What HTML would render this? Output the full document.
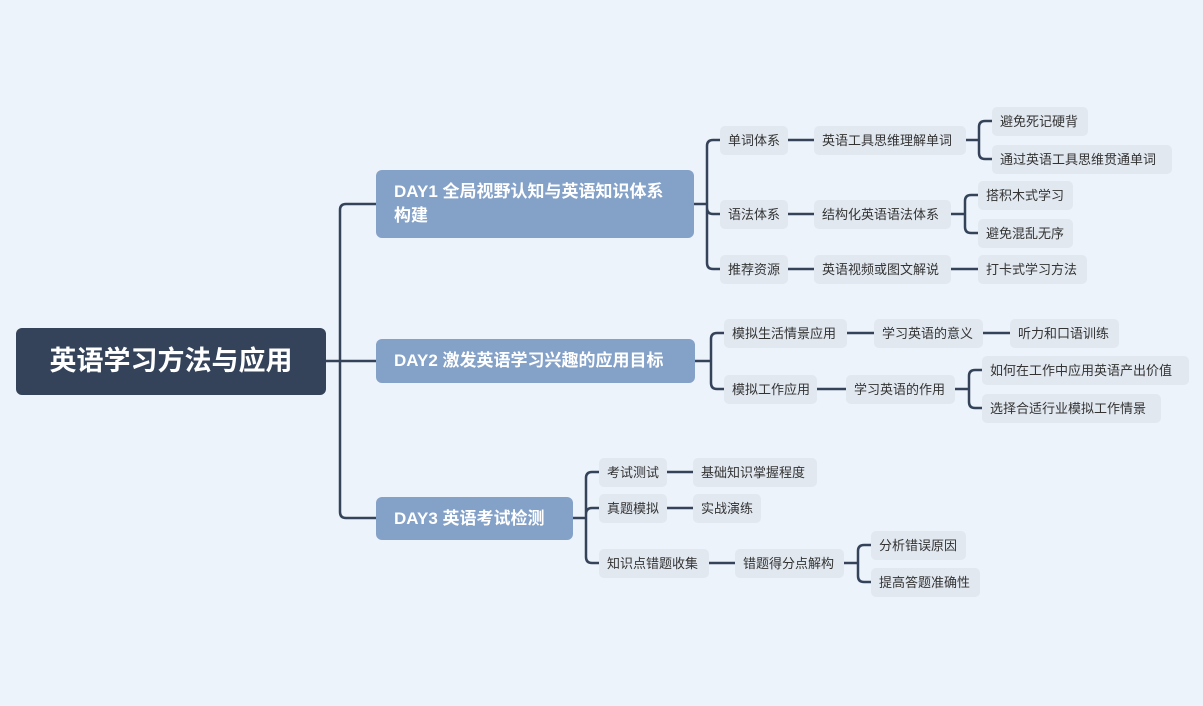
<!DOCTYPE html>
<html><head><meta charset="utf-8"><style>
body{margin:0;width:1203px;height:706px;background:#ecf3fa;position:relative;overflow:hidden;font-family:"Liberation Sans","Noto Sans CJK SC",sans-serif}
.n{position:absolute;height:29px;line-height:29px;padding:0 8px;background:#e1e8f0;color:#333;font-size:13px;border-radius:5px;white-space:nowrap;box-sizing:border-box}
.d{position:absolute;background:#84a1c8;color:#fff;font-weight:bold;font-size:17px;border-radius:6px;box-sizing:border-box;padding:0 18px;white-space:nowrap}
svg{position:absolute;left:0;top:0}
</style></head><body>
<svg width="1203" height="706"><g fill="none" stroke="#34435a" stroke-width="2.5">
<path d="M326 361H340M340 361V210Q340 204 346 204H376M340 361H376M340 361V512Q340 518 346 518H376"/>
<path d="M694 204H707M707 204V146Q707 140 713 140H720M707 204V208Q707 214 713 214H720M707 204V263Q707 269 713 269H720"/>
<path d="M788 140H814M788 214H814M788 269H814"/>
<path d="M966 140H979M979 140V127Q979 121 985 121H992M979 140V153Q979 159 985 159H992"/>
<path d="M951 214H965M965 214V201Q965 195 971 195H978M965 214V227Q965 233 971 233H978M951 269H978"/>
<path d="M695 361H711M711 361V339Q711 333 717 333H724M711 361V383Q711 389 717 389H724"/>
<path d="M847 333H874M983 333H1010M817 389H846M955 389H969M969 389V376Q969 370 975 370H982M969 389V402Q969 408 975 408H982"/>
<path d="M573 518H586M586 518V478Q586 472 592 472H599M586 518V514Q586 508 592 508H599M586 518V557Q586 563 592 563H599"/>
<path d="M667 472H693M667 508H693M709 563H735M844 563H858M858 563V551Q858 545 864 545H871M858 563V576Q858 582 864 582H871"/>
</g></svg>
<div style="position:absolute;left:16px;top:328px;width:310px;height:67px;background:#34435a;border-radius:6px;color:#fff;font-weight:bold;font-size:27px;line-height:67px;text-align:center">英语学习方法与应用</div>
<div class="d" style="left:376px;top:170px;width:318px;height:68px;padding-top:10px;line-height:24px">DAY1 全局视野认知与英语知识体系<br>构建</div>
<div class="d" style="left:376px;top:339px;width:319px;height:44px;line-height:44px">DAY2 激发英语学习兴趣的应用目标</div>
<div class="d" style="left:376px;top:497px;width:197px;height:43px;line-height:43px">DAY3 英语考试检测</div>

<div class="n" style="left:720px;top:126px;width:68px">单词体系</div>
<div class="n" style="left:814px;top:126px;width:152px">英语工具思维理解单词</div>
<div class="n" style="left:992px;top:107px;width:96px">避免死记硬背</div>
<div class="n" style="left:992px;top:145px;width:180px">通过英语工具思维贯通单词</div>
<div class="n" style="left:720px;top:200px;width:68px">语法体系</div>
<div class="n" style="left:814px;top:200px;width:137px">结构化英语语法体系</div>
<div class="n" style="left:978px;top:181px;width:95px">搭积木式学习</div>
<div class="n" style="left:978px;top:219px;width:95px">避免混乱无序</div>
<div class="n" style="left:720px;top:255px;width:68px">推荐资源</div>
<div class="n" style="left:814px;top:255px;width:137px">英语视频或图文解说</div>
<div class="n" style="left:978px;top:255px;width:109px">打卡式学习方法</div>

<div class="n" style="left:724px;top:319px;width:123px">模拟生活情景应用</div>
<div class="n" style="left:874px;top:319px;width:109px">学习英语的意义</div>
<div class="n" style="left:1010px;top:319px;width:109px">听力和口语训练</div>
<div class="n" style="left:724px;top:375px;width:93px">模拟工作应用</div>
<div class="n" style="left:846px;top:375px;width:109px">学习英语的作用</div>
<div class="n" style="left:982px;top:356px;width:207px">如何在工作中应用英语产出价值</div>
<div class="n" style="left:982px;top:394px;width:179px">选择合适行业模拟工作情景</div>

<div class="n" style="left:599px;top:458px;width:68px">考试测试</div>
<div class="n" style="left:693px;top:458px;width:124px">基础知识掌握程度</div>
<div class="n" style="left:599px;top:494px;width:68px">真题模拟</div>
<div class="n" style="left:693px;top:494px;width:68px">实战演练</div>
<div class="n" style="left:599px;top:549px;width:110px">知识点错题收集</div>
<div class="n" style="left:735px;top:549px;width:109px">错题得分点解构</div>
<div class="n" style="left:871px;top:531px;width:95px">分析错误原因</div>
<div class="n" style="left:871px;top:568px;width:109px">提高答题准确性</div>
</body></html>
